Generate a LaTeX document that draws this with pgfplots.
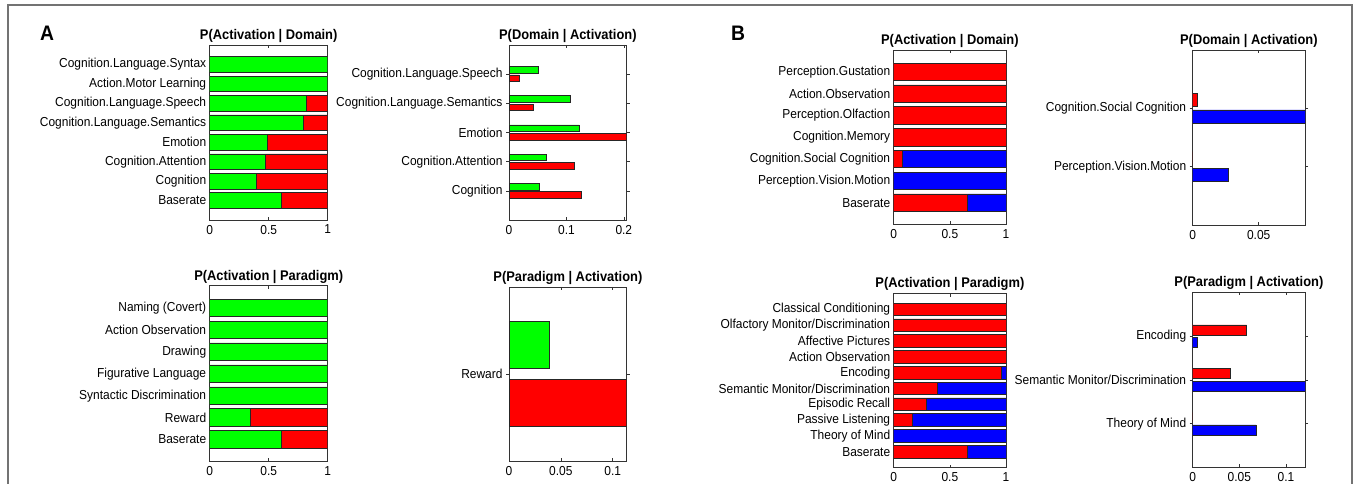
\documentclass[border=0pt]{standalone}
\usepackage{fontspec}
\setmainfont{Liberation Sans}[FakeStretch=0.92]
\usepackage{pgfplots}
\pgfplotsset{compat=1.18}
\definecolor{mgreen}{RGB}{0,255,0}
\definecolor{mred}{RGB}{255,0,0}
\definecolor{mblue}{RGB}{0,0,255}
\pgfplotsset{
  panel/.style={
    scale only axis, anchor=south west,
    xmin=0, ymin=0,
    scaled x ticks=false,
    axis line style={line width=0.9pt, black!80},
    tick align=inside, major tick length=3pt,
    tick style={black!80, line width=0.6pt},
    ticklabel style={font=\fontsize{13}{15}\selectfont},
    xticklabel style={yshift=-1.5pt},
    title style={font=\bfseries\fontsize{14}{16}\selectfont, at={(0.5,1)}, anchor=south, yshift=-7pt},
    every axis plot/.append style={draw=black!85, line width=0.7pt},
  },
  stk/.style={panel, xbar stacked, bar width=0.8, xmax=1, xtick={0,0.5,1}, xticklabels={0,0.5,1}},
  grp/.style={panel, xbar, bar width=0.229},
}
\begin{document}
\begin{tikzpicture}
\useasboundingbox (0pt,0pt) rectangle (1360pt,484pt);
\draw[black!55, line width=1.2pt] (8pt,-10pt) rectangle (1352pt,479pt);
\node[font=\bfseries\fontsize{21}{23}\selectfont] at (47pt,451pt) {A};
\node[font=\bfseries\fontsize{21}{23}\selectfont] at (738pt,451pt) {B};

% A top-left
\begin{axis}[stk, at={(209.7pt,264pt)}, width=118pt, height=175pt, ymax=9,
  title={P(Activation \textbar{} Domain)},
  ytick={1,...,8},
  yticklabels={Baserate,Cognition,Cognition.Attention,Emotion,Cognition.Language.Semantics,Cognition.Language.Speech,Action.Motor Learning,Cognition.Language.Syntax}]
\addplot[fill=mgreen] coordinates {(0.61,1) (0.395,2) (0.472,3) (0.489,4) (0.794,5) (0.816,6) (1,7) (1,8)};
\addplot[fill=mred] coordinates {(0.39,1) (0.605,2) (0.528,3) (0.511,4) (0.206,5) (0.184,6) (0,7) (0,8)};
\end{axis}

% A top-right
\begin{axis}[grp, at={(509pt,264pt)}, width=117.7pt, height=175pt, xmax=0.205, ymax=6,
  title={P(Domain \textbar{} Activation)},
  xtick={0,0.1,0.2}, xticklabels={0,0.1,0.2},
  ytick={1,...,5},
  yticklabels={Cognition,Cognition.Attention,Emotion,Cognition.Language.Semantics,Cognition.Language.Speech}]
\addplot[fill=mgreen, bar shift=0.143] coordinates {(0.0527,1) (0.0657,2) (0.1224,3) (0.1065,4) (0.0516,5)};
\addplot[fill=mred, bar shift=-0.143] coordinates {(0.1258,1) (0.1144,2) (0.205,3) (0.0425,4) (0.0176,5)};
\end{axis}

% B top-left
\begin{axis}[stk, at={(893.7pt,259.5pt)}, width=112.3pt, height=174.5pt, ymax=8,
  title={P(Activation \textbar{} Domain)},
  ytick={1,...,7},
  yticklabels={Baserate,Perception.Vision.Motion,Cognition.Social Cognition,Cognition.Memory,Perception.Olfaction,Action.Observation,Perception.Gustation}]
\addplot[fill=mred] coordinates {(0.656,1) (0,2) (0.077,3) (1,4) (1,5) (1,6) (1,7)};
\addplot[fill=mblue] coordinates {(0.344,1) (1,2) (0.923,3) (0,4) (0,5) (0,6) (0,7)};
\end{axis}

% B top-right
\begin{axis}[grp, at={(1192.7pt,259pt)}, width=112.3pt, height=175pt, xmax=0.0851, ymax=3,
  title={P(Domain \textbar{} Activation)},
  xtick={0,0.05}, xticklabels={0,0.05},
  ytick={1,2},
  yticklabels={Perception.Vision.Motion,Cognition.Social Cognition}]
\addplot[fill=mred, bar shift=0.143] coordinates {(0,1) (0.0038,2)};
\addplot[fill=mblue, bar shift=-0.143] coordinates {(0.0273,1) (0.0851,2)};
\end{axis}

% A bottom-left
\begin{axis}[stk, at={(209.7pt,22.5pt)}, width=118pt, height=175.6pt, ymax=8,
  title={P(Activation \textbar{} Paradigm)},
  ytick={1,...,7},
  yticklabels={Baserate,Reward,Syntactic Discrimination,Figurative Language,Drawing,Action Observation,Naming (Covert)}]
\addplot[fill=mgreen] coordinates {(0.61,1) (0.347,2) (1,3) (1,4) (1,5) (1,6) (1,7)};
\addplot[fill=mred] coordinates {(0.39,1) (0.653,2) (0,3) (0,4) (0,5) (0,6) (0,7)};
\end{axis}

% A bottom-right
\begin{axis}[panel, xbar, bar width=0.8, at={(509pt,23pt)}, width=117.7pt, height=174pt, xmax=0.1135, ymax=3,
  title={P(Paradigm \textbar{} Activation)},
  xtick={0,0.05,0.1}, xticklabels={0,0.05,0.1},
  ytick={1.5}, yticklabels={Reward}]
\addplot[fill=mgreen, bar shift=0] coordinates {(0.0392,2)};
\addplot[fill=mred, bar shift=0] coordinates {(0.1135,1)};
\end{axis}

% B bottom-left
\begin{axis}[stk, at={(893.7pt,16.4pt)}, width=112.3pt, height=174pt, ymax=11,
  title={P(Activation \textbar{} Paradigm)},
  ytick={1,...,10},
  yticklabels={Baserate,Theory of Mind,Passive Listening,Episodic Recall,Semantic Monitor/Discrimination,Encoding,Action Observation,Affective Pictures,Olfactory Monitor/Discrimination,Classical Conditioning}]
\addplot[fill=mred] coordinates {(0.656,1) (0,2) (0.166,3) (0.294,4) (0.389,5) (0.955,6) (1,7) (1,8) (1,9) (1,10)};
\addplot[fill=mblue] coordinates {(0.344,1) (1,2) (0.834,3) (0.706,4) (0.611,5) (0.045,6) (0,7) (0,8) (0,9) (0,10)};
\end{axis}

% B bottom-right
\begin{axis}[grp, at={(1192.7pt,16.5pt)}, width=112.3pt, height=175pt, xmax=0.1204, ymax=4,
  title={P(Paradigm \textbar{} Activation)},
  xtick={0,0.05,0.1}, xticklabels={0,0.05,0.1},
  ytick={1,2,3},
  yticklabels={Theory of Mind,Semantic Monitor/Discrimination,Encoding}]
\addplot[fill=mred, bar shift=0.143] coordinates {(0,1) (0.0404,2) (0.0579,3)};
\addplot[fill=mblue, bar shift=-0.143] coordinates {(0.0679,1) (0.1204,2) (0.0046,3)};
\end{axis}
\end{tikzpicture}
\end{document}
